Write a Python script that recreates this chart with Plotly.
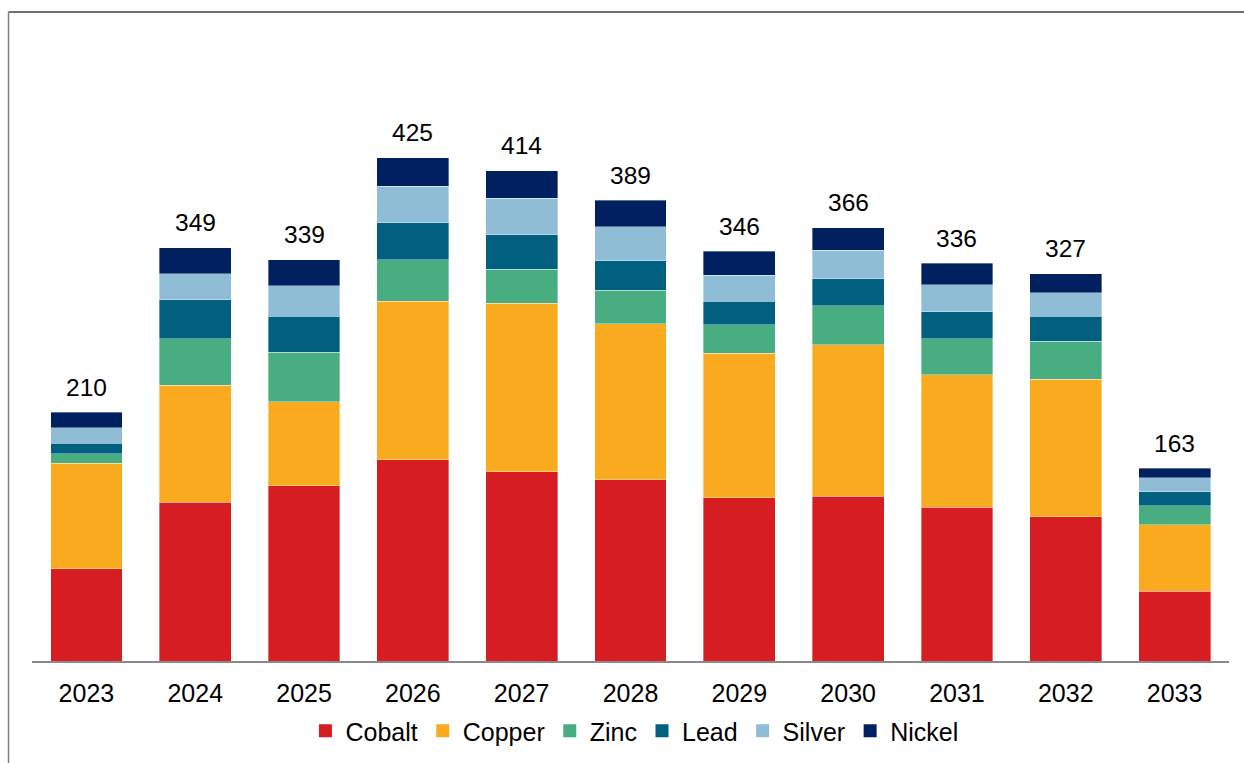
import plotly.graph_objects as go

years = ["2023", "2024", "2025", "2026", "2027", "2028", "2029", "2030", "2031", "2032", "2033"]
cobalt = [78, 134, 148, 170, 160, 153, 138, 139, 130, 122, 59]
copper = [89, 99, 71, 134, 142, 132, 122, 128, 112, 116, 56]
zinc = [8, 39, 42, 35, 29, 28, 24, 33, 30, 32, 16]
lead = [9, 33, 30, 31, 29, 25, 20, 23, 23, 21, 12]
silver = [13, 22, 26, 31, 31, 29, 22, 24, 23, 20, 12]
nickel = [13, 22, 22, 24, 23, 22, 20, 19, 18, 16, 8]
totals = [210, 349, 339, 425, 414, 389, 346, 366, 336, 327, 163]

series = [
    ("Cobalt", cobalt, "#D51D22"),
    ("Copper", copper, "#F9AA1F"),
    ("Zinc", zinc, "#48AD81"),
    ("Lead", lead, "#015F80"),
    ("Silver", silver, "#8FBDD5"),
    ("Nickel", nickel, "#00205F"),
]

FONT = "Liberation Sans, Arial, sans-serif"

fig = go.Figure()
for name, vals, color in series:
    fig.add_trace(go.Bar(
        x=years, y=vals, name=name, showlegend=False,
        marker=dict(color=color, line=dict(color="rgba(255,255,255,0.45)", width=0.8)),
    ))
# legend entries with square swatches
for name, vals, color in series:
    fig.add_trace(go.Scatter(
        x=[None], y=[None], name=name, mode="markers",
        marker=dict(symbol="square", size=13, color=color),
    ))

for i, tot in enumerate(totals):
    fig.add_annotation(x=i, y=tot, text=str(tot), showarrow=False,
                       yanchor="middle", yshift=25,
                       font=dict(size=24.5, color="#000000", family=FONT))

# outer frame (top and left edges)
W, H = 1244, 763
ml, mr, mt, mb = 31.5, 14.5, 117, 102
pw, ph = W - ml - mr, H - mt - mb
def px(x):
    return (x - ml) / pw
def py(y):
    return (H - mb - y) / ph
fig.add_shape(type="line", xref="paper", yref="paper",
              x0=px(8), x1=px(1250), y0=py(12), y1=py(12),
              line=dict(color="#404040", width=1.5))
fig.add_shape(type="line", xref="paper", yref="paper",
              x0=px(8), x1=px(8), y0=py(12), y1=py(770),
              line=dict(color="#808080", width=1.5))

fig.update_layout(
    barmode="stack",
    bargap=0.34,
    width=W, height=H,
    margin=dict(l=ml, r=mr, t=mt, b=mb, pad=0, autoexpand=False),
    paper_bgcolor="white", plot_bgcolor="white",
    font=dict(family=FONT, size=25, color="#000000"),
    showlegend=True,
    legend=dict(orientation="h", x=0.51, xanchor="center", xref="container",
                y=1 - 731 / H, yanchor="middle", yref="container",
                font=dict(size=25, family=FONT), traceorder="normal",
                itemwidth=30, tracegroupgap=0, itemsizing="trace"),
    xaxis=dict(type="category", range=[-0.5, len(years) - 0.5], showline=True,
               linecolor="#898989", linewidth=1.5, ticks="", ticklabelstandoff=9,
               tickfont=dict(size=25, family=FONT), showgrid=False, zeroline=False,
               automargin=False),
    yaxis=dict(visible=False, range=[0, 459.5], showgrid=False, zeroline=False),
)

fig.write_html("out.html", config={"displayModeBar": False},
               post_script="document.body.style.margin='0';document.body.style.overflow='hidden';")
